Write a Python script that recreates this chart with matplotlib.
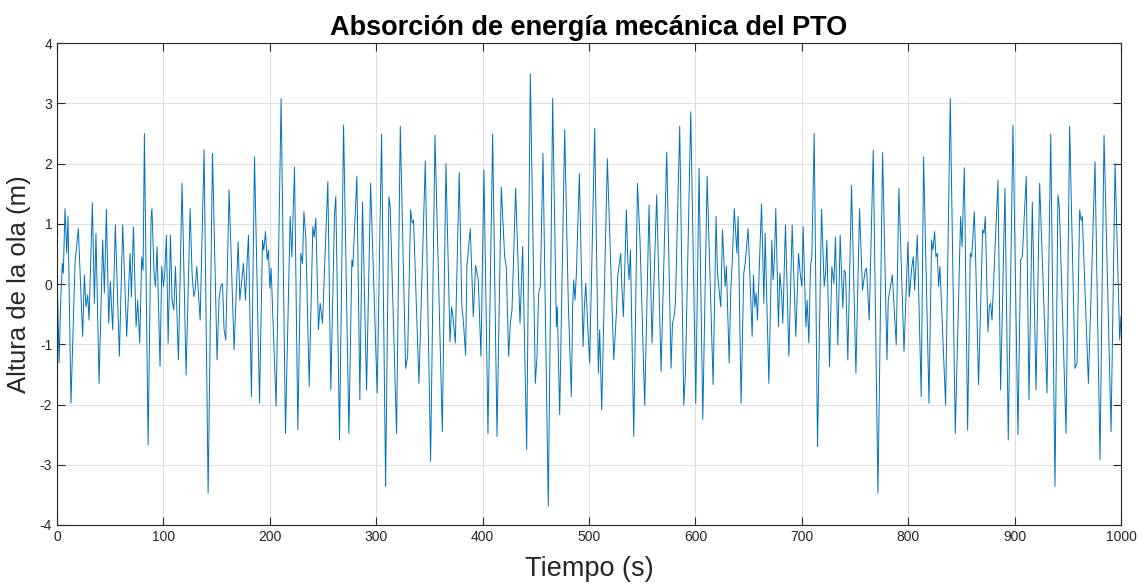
import numpy as np
import matplotlib
matplotlib.use('Agg')
import matplotlib.pyplot as plt

plt.rcParams['font.family'] = ['Liberation Sans', 'DejaVu Sans']
plt.rcParams['axes.unicode_minus'] = False

# Wave height readings (time in s, height in m)
t1 = [0, 1.9, 3.7, 5.0, 5.9, 7.5, 9.1, 10.3, 13.1, 16.9, 20.0, 24.1, 25.7, 27.2, 28.8, 30.1, 33.2, 35.1,
      36.6, 39.5, 42.9, 44.5, 46.4, 48.6, 50.1, 52.3, 54.8, 58.6, 61.7, 65.5, 68.6, 69.9, 71.8, 74.3,
      75.8, 77.7, 79.6, 80.9, 82.1, 85.6, 88.4, 89.2]
h1 = [0.3, -1.31, -0.15, 0.34, 0.18, 1.25, 0.51, 1.12, -1.98, 0.34, 0.92, -0.87, 0.15, -0.38, -0.18, -0.60,
      1.35, -0.32, 0.84, -1.65, 0.73, -0.15, 1.24, -0.65, 0.04, -0.76, 0.98, -1.20, 0.98, -0.87, 0.51,
      -0.21, 0.95, -0.71, -0.27, -0.98, 0.45, 0.23, 2.50, -2.67, 1.12, 1.25]

t2 = [91.2, 92.5, 94.0, 96.8, 98.4, 100.0, 101.2, 102.8, 104.4, 106.6, 108.1, 109.7, 111.3, 114.1, 117.5,
      121.3, 125.1, 126.9, 128.5, 129.8, 131.3, 134.5, 138.2, 142.0, 146.1, 150.4, 152.3, 153.9, 155.5,
      157.0, 158.6, 161.7, 166.4, 170.2, 171.8, 173.3, 175.2, 177.1, 178.3, 179.9]
h2 = [0.18, -0.04, 0.62, -1.37, 0.29, -0.04, 0.18, 0.81, -0.98, 0.81, -0.27, -0.43, 0.29, -1.26, 1.67,
      -1.51, 1.25, 0.18, -0.21, -0.10, 0.29, -0.60, 2.23, -3.47, 2.17, -1.26, -0.24, -0.04, 0.01, -0.76,
      -0.93, 1.56, -1.09, 0.70, -0.27, 0.01, 0.34, -0.27, 0.23, 0.81]

t3 = [182.7, 185.6, 190.3, 193.1, 194.3, 195.9, 197.5, 198.7, 200.0, 201.2, 205.9, 210.6, 214.7, 219.1,
      220.7, 223.2, 226.3, 229.1, 230.7, 232.0, 233.8, 237.0, 240.4, 241.7, 243.2, 245.7, 247.3, 249.5,
      254.5, 257.3, 260.8, 262.0, 265.5, 269.3]
h3 = [-1.87, 2.11, -1.98, 0.73, 0.56, 0.87, 0.40, 0.56, -0.07, 0.26, -2.03, 3.08, -2.48, 1.12, 0.45, 1.94,
      -2.42, 0.51, 0.34, 1.20, 0.78, -1.70, 0.95, 0.78, 1.09, -0.76, -0.32, -0.65, 1.70, -1.76, 1.17, 1.45,
      -2.59, 2.64]

t4 = [274.3, 277.1, 278.0, 281.8, 284.6, 287.1, 290.9, 294.7, 300.9, 305.0, 308.8, 311.9, 313.1, 319.1,
      322.6, 327.6, 329.5, 332.3, 333.8, 335.1, 340.1, 346.1, 351.1, 355.2, 362.1]
h4 = [-2.48, 0.40, 0.29, 1.79, -1.92, 1.36, -1.76, 1.67, -1.81, 2.49, -3.36, 1.45, 1.28, -2.48, 2.62,
      -1.40, -1.20, 1.23, 1.01, 1.06, -1.65, 2.04, -2.94, 2.47, -2.45]

t5 = [365.5, 369.3, 370.8, 372.1, 374.3, 378.0, 380.5, 381.8, 384.0, 385.2, 386.8, 388.4, 391.2, 393.4,
      395.9, 398.4, 401.2, 405.0, 409.4, 413.5, 417.5, 420.7, 422.2, 424.4, 426.0, 427.6, 431.0, 435.1,
      437.6, 441.4, 444.8, 449.5, 451.1, 452.6, 454.2]
h5 = [2.00, -0.96, -0.38, -0.54, -0.98, 1.85, -0.38, -0.60, -1.18, 0.29, 0.62, 0.92, -0.54, 0.31, 0.07,
      -1.20, 1.89, -2.48, 2.49, -2.53, 1.61, 0.45, 0.29, -1.20, -0.65, -0.43, 1.59, -0.65, 0.62, -2.75,
      3.49, -1.65, -1.20, -0.15, -0.04]

t6 = [456.7, 461.7, 465.8, 469.3, 470.2, 472.4, 477.1, 480.5, 483.4, 484.6, 485.6, 486.8, 488.1, 490.9,
      494.4, 495.6, 496.9, 499.4, 500.6, 505.3, 508.8, 510.0, 511.9, 517.2, 523.2, 525.7, 526.9, 528.2,
      529.8, 531.0, 532.3, 535.1, 536.4, 537.6, 538.9, 542.0, 545.5]
h6 = [2.17, -3.69, 3.08, -0.71, -0.38, -2.17, 2.56, -0.32, -1.87, -0.38, 0.07, -0.27, 0.18, 1.83, -1.04,
      -0.38, 0.01, -0.93, -1.31, 2.58, -1.48, -0.76, -2.09, 2.08, -1.26, -0.49, 0.12, 0.29, 0.51, -0.10,
      -0.54, 1.23, 0.40, 0.07, 0.56, -2.53, 1.67]

t7 = [547.9, 552.3, 556.4, 559.2, 563.6, 567.7, 573.0, 577.1, 578.4, 579.9, 581.2, 585.2, 589.0, 590.6,
      595.6, 600.3, 603.4, 606.9, 611.0, 616.6, 619.4, 620.7, 623.8, 625.4, 626.6, 627.9, 629.1, 631.7,
      633.2, 634.5, 636.5]
h7 = [0.73, -2.01, 1.31, -0.98, 1.48, -1.45, 2.19, -1.40, -0.65, -0.54, -0.32, 2.62, -2.01, -1.48, 2.86,
      -1.98, 1.92, -2.25, 1.79, -1.67, 1.12, 0.18, -0.38, 0.90, 0.45, -0.04, 0.29, -1.31, -0.10, 0.34, 1.25]

t8 = [638.9, 640.1, 642.9, 645.4, 646.7, 649.5, 653.3, 654.5, 655.8, 657.0, 658.3, 662.1, 664.3, 665.5,
      669.0, 671.8, 673.0, 674.3, 675.5, 678.0, 679.3, 680.9, 682.1, 684.6, 687.8, 690.9, 694.3, 696.9,
      698.4, 700.0, 701.2, 703.8, 705.0, 706.6, 708.1, 709.4, 711.6, 714.7, 718.5, 721.0, 722.3, 723.5,
      726.0, 728.2]
h8 = [0.51, 1.12, -1.98, 0.18, 0.34, 0.92, -0.87, 0.15, -0.38, -0.15, -0.60, 1.33, -0.32, 0.84, -1.65,
      0.73, 0.07, 0.45, 1.25, -0.71, 0.18, -0.15, -0.65, 0.98, -1.20, 0.98, -0.87, 0.51, 0.18, -0.04, 0.95,
      -0.71, -0.27, -0.98, 0.29, 0.45, 2.50, -2.70, 1.24, -0.04, 0.18, 0.73, -1.37, 0.29]

t9 = [730.1, 731.6, 733.8, 736.0, 738.5, 739.8, 741.1, 743.2, 746.7, 750.8, 754.2, 757.0, 759.6, 760.8,
      763.3, 767.1, 771.5, 775.9, 780.0, 781.2, 783.7, 785.0, 788.7, 791.2, 796.0, 799.7, 801.0, 803.4,
      804.7, 806.0, 808.5, 812.2, 814.4, 819.5]
h9 = [0.01, 0.78, -1.01, 0.81, -0.40, 0.23, 0.18, -1.26, 1.64, -1.48, 1.25, -0.10, 0.23, 0.26, -0.60, 2.22,
      -3.47, 2.18, -1.26, -0.27, 0.01, 0.15, -1.01, 1.59, -1.12, 0.70, -0.21, 0.29, 0.45, -0.10, 0.81,
      -1.87, 2.11, -1.98]

t10 = [821.9, 823.2, 824.8, 826.0, 827.3, 828.5, 829.8, 835.1, 839.5, 844.2, 849.2, 850.5, 852.7, 855.8,
       858.3, 859.6, 862.1, 863.3, 866.1, 869.9, 871.2, 872.4, 874.9, 876.2, 877.4, 878.7, 884.3, 886.8,
       890.9, 894.0, 898.4, 903.1, 905.6, 907.2, 910.9]
h10 = [0.73, 0.56, 0.87, 0.45, 0.51, -0.04, 0.29, -2.01, 3.08, -2.48, 1.12, 0.62, 1.93, -2.42, 0.51, 0.45,
       1.20, 0.45, -1.67, 0.90, 0.84, 1.12, -0.79, -0.38, -0.32, -0.60, 1.72, -1.76, 1.59, -2.59, 2.64,
       -2.50, 0.40, 0.45, 1.79]

t11 = [913.5, 916.6, 920.1, 923.5, 930.4, 933.9, 937.9, 940.7, 942.0, 948.3, 951.7, 956.7, 958.6, 961.1,
       962.4, 963.6, 969.3, 975.5, 980.2, 984.0, 990.6, 994.4, 998.7, 1000.0]
h11 = [-1.92, 1.36, -1.76, 1.67, -1.81, 2.49, -3.36, 1.48, 1.28, -2.48, 2.62, -1.40, -1.31, 1.23, 1.06,
       1.12, -1.65, 2.03, -2.92, 2.47, -2.45, 2.00, -0.93, -0.54]

t = np.concatenate([t1, t2, t3, t4, t5, t6, t7, t8, t9, t10, t11])
h = np.concatenate([h1, h2, h3, h4, h5, h6, h7, h8, h9, h10, h11])

fig = plt.figure(figsize=(11.43, 5.86), dpi=100)
ax = fig.add_axes([0.0499, 0.1041, 0.9309, 0.8225])
ax.plot(t, h, color='#0072BD', lw=0.7)

ax.set_xlim(0, 1000)
ax.set_ylim(-4, 4)
ax.set_xticks(range(0, 1001, 100))
ax.set_yticks(range(-4, 5))
ax.grid(True, color='#dfdfdf', lw=0.8)
ax.set_axisbelow(True)
ax.tick_params(direction='in', top=True, right=True, length=6, width=0.8,
               labelsize=10, colors='#262626')
for s in ax.spines.values():
    s.set_color('#262626')
    s.set_linewidth(0.8)

ax.set_title('Absorción de energía mecánica del PTO', fontsize=19.5, fontweight='bold', pad=6)
ax.set_xlabel('Tiempo (s)', fontsize=19.5, color='#262626', labelpad=9)
ax.set_ylabel('Altura de la ola (m)', fontsize=18.5, color='#262626', labelpad=6)

fig.savefig('out.png', dpi=100)
